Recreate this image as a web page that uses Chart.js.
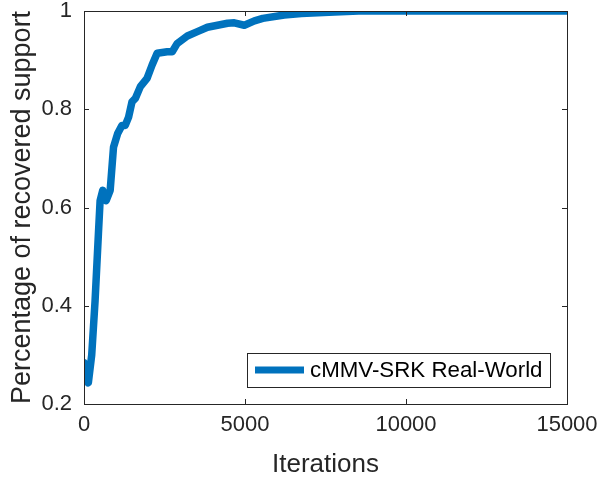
<!DOCTYPE html>
<html>
<head>
<meta charset="utf-8">
<script src="https://cdn.jsdelivr.net/npm/chart.js@4.4.0/dist/chart.umd.min.js"></script>
<style>
  html, body { margin: 0; padding: 0; background: #fff; }
  #wrap { width: 603px; height: 477px; }
</style>
</head>
<body>
<div id="wrap"><canvas id="c" width="603" height="477"></canvas></div>
<script>
// values
const iterations = [0, 135, 240, 344, 448, 500, 583, 688, 813, 917, 1042, 1177, 1281, 1385, 1490,
  1594, 1750, 1958, 2115, 2271, 2583, 2740, 2896, 3208, 3521, 3833, 4146, 4458, 4667, 4979,
  5292, 5552, 6219, 6750, 7781, 8531, 9000, 10000, 11000, 12000, 13000, 14000, 15000];
const support = [0.284, 0.243, 0.30, 0.41, 0.547, 0.614, 0.635, 0.614, 0.635, 0.723, 0.75, 0.767, 0.767, 0.784, 0.815,
  0.822, 0.846, 0.863, 0.89, 0.914, 0.917, 0.917, 0.934, 0.949, 0.958, 0.967, 0.971, 0.975, 0.976, 0.971,
  0.98, 0.985, 0.992, 0.995, 0.998, 1.0, 1.0, 1.0, 1.0, 1.0, 1.0, 1.0, 1.0];
const xTicks = [0, 5000, 10000, 15000];
const yTicks = [0.2, 0.4, 0.6, 0.8, 1];
const seriesLabel = 'cMMV-SRK Real-World';

const FONT = '"Liberation Sans", Arial, sans-serif';
const LINE_COLOR = '#0072BD';
const AXIS_COLOR = '#262626';

// box, inward ticks and the legend, MATLAB style
const matlabAxes = {
  id: 'matlabAxes',
  afterDatasetsDraw(chart) {
    const { ctx, chartArea: a, scales } = chart;
    ctx.save();
    ctx.strokeStyle = AXIS_COLOR;
    ctx.lineWidth = 1;
    ctx.strokeRect(a.left + 0.5, a.top + 0.5, a.right - a.left, a.bottom - a.top);
    const len = 5;
    ctx.beginPath();
    xTicks.forEach(v => {
      const x = Math.round(scales.x.getPixelForValue(v)) + 0.5;
      ctx.moveTo(x, a.bottom); ctx.lineTo(x, a.bottom - len);
      ctx.moveTo(x, a.top); ctx.lineTo(x, a.top + len);
    });
    yTicks.forEach(v => {
      const y = Math.round(scales.y.getPixelForValue(v)) + 0.5;
      ctx.moveTo(a.left, y); ctx.lineTo(a.left + len, y);
      ctx.moveTo(a.right, y); ctx.lineTo(a.right - len, y);
    });
    ctx.stroke();

    // legend
    const bx = 247, by = 353, bw = 303, bh = 34;
    ctx.fillStyle = '#fff';
    ctx.fillRect(bx, by, bw, bh);
    ctx.strokeRect(bx + 0.5, by + 0.5, bw, bh);
    ctx.strokeStyle = LINE_COLOR;
    ctx.lineWidth = 7;
    ctx.beginPath();
    ctx.moveTo(255, by + bh / 2);
    ctx.lineTo(304, by + bh / 2);
    ctx.stroke();
    ctx.fillStyle = '#000';
    ctx.font = '22.3px ' + FONT;
    ctx.textBaseline = 'middle';
    ctx.fillText(chart.data.datasets[0].label, 310, by + bh / 2 + 1);
    ctx.restore();
  }
};

new Chart(document.getElementById('c'), {
  type: 'line',
  data: {
    datasets: [{
      label: seriesLabel,
      data: iterations.map((x, i) => ({ x, y: support[i] })),
      borderColor: LINE_COLOR,
      borderWidth: 7.5,
      pointRadius: 0,
      tension: 0,
      fill: false,
      borderJoinStyle: 'round',
      borderCapStyle: 'round'
    }]
  },
  options: {
    responsive: false,
    animation: false,
    layout: { padding: { top: 11, right: 36, left: 0, bottom: 0 } },
    plugins: { legend: { display: false }, tooltip: { enabled: false } },
    scales: {
      x: {
        type: 'linear',
        min: 0, max: 15000,
        afterBuildTicks: s => { s.ticks = xTicks.map(value => ({ value })); },
        afterFit: s => { s.height = 73; s.paddingLeft = 0; s.paddingRight = 0; },
        grid: { display: false, drawTicks: false },
        border: { display: false },
        ticks: {
          color: AXIS_COLOR, padding: 8, maxRotation: 0,
          font: { family: FONT, size: 22 },
          callback: v => String(v)
        },
        title: {
          display: true, text: 'Iterations', color: AXIS_COLOR,
          font: { family: FONT, size: 26 }, padding: { top: 0, bottom: -3 }
        }
      },
      y: {
        min: 0.2, max: 1,
        afterBuildTicks: s => { s.ticks = yTicks.map(value => ({ value })); },
        afterFit: s => { s.width = 84; s.paddingTop = 0; s.paddingBottom = 0; },
        grid: { display: false, drawTicks: false },
        border: { display: false },
        ticks: {
          color: AXIS_COLOR, padding: 12,
          font: { family: FONT, size: 22 },
          callback: v => String(+v.toFixed(1))
        },
        title: {
          display: true, text: 'Percentage of recovered support', color: AXIS_COLOR,
          font: { family: FONT, size: 27 }, padding: { top: 6 }
        }
      }
    }
  },
  plugins: [matlabAxes]
});
</script>
</body>
</html>
